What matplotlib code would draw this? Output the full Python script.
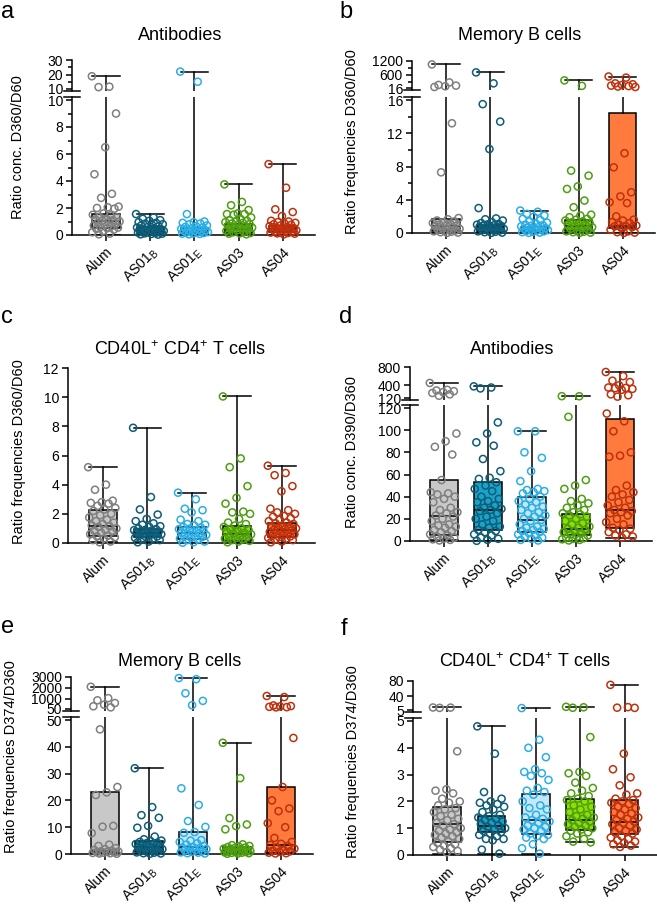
import numpy as np
import matplotlib
matplotlib.use("Agg")
import matplotlib.pyplot as plt

plt.rcParams['font.family'] = ['Liberation Sans', 'DejaVu Sans']
plt.rcParams['mathtext.default'] = 'regular'

groups = ['Alum', 'AS01$_{B}$', 'AS01$_{E}$', 'AS03', 'AS04']
box_fill = ['#c8c8c8', '#1aa3c9', '#c5e7f7', '#8fe000', '#ff7a3d']
pt_col = ['#7f7f7f', '#0d5d78', '#2aaee6', '#4e9e12', '#c0300c']

# panel a - antibodies D360/D60 ; boxes are (min, q1, median, q3, max)
a_pts = [
    [18.8, 11.6, 11.3, 9.0, 6.5, 4.5, 3.05, 2.75, 2.1, 2.05, 2.0, 1.95, 1.6, 1.5, 1.45, 1.35, 1.3, 1.2, 1.15,
     1.1, 1.05, 1.0, 0.95, 0.9, 0.85, 0.8, 0.7, 0.65, 0.6, 0.55, 0.5, 0.45, 0.4, 0.3, 0.2, 0.1, 0.05],
    [1.55, 1.3, 1.2, 1.1, 1.05, 0.95, 0.9, 0.85, 0.8, 0.75, 0.7, 0.65, 0.6, 0.55, 0.5, 0.45, 0.42, 0.4, 0.38,
     0.35, 0.32, 0.3, 0.28, 0.25, 0.22, 0.2, 0.18, 0.15, 0.12, 0.1, 0.08, 0.05, 0.03],
    [22.0, 15.0, 1.55, 1.0, 0.95, 0.9, 0.85, 0.8, 0.7, 0.65, 0.6, 0.55, 0.5, 0.45, 0.4, 0.38, 0.35, 0.32, 0.3,
     0.28, 0.25, 0.22, 0.2, 0.18, 0.15, 0.12, 0.1, 0.08, 0.05],
    [3.75, 2.45, 2.2, 1.85, 1.6, 1.55, 1.55, 1.5, 1.3, 1.2, 1.1, 1.05, 1.0, 0.95, 0.9, 0.85, 0.8, 0.75, 0.7,
     0.65, 0.6, 0.55, 0.5, 0.45, 0.4, 0.35, 0.3, 0.25, 0.2, 0.15, 0.12, 0.1, 0.05],
    [5.25, 3.5, 1.9, 1.7, 1.4, 1.05, 1.0, 0.95, 0.9, 0.85, 0.8, 0.75, 0.7, 0.65, 0.6, 0.55, 0.5, 0.48, 0.45,
     0.42, 0.4, 0.35, 0.3, 0.28, 0.25, 0.2, 0.18, 0.15, 0.12, 0.1, 0.05],
]
a_box = [(0.03, 0.55, 1.05, 1.55, 18.8), (0.02, 0.15, 0.32, 0.6, 1.55), (0.03, 0.14, 0.3, 0.5, 22.0),
         (0.03, 0.15, 0.45, 0.85, 3.75), (0.03, 0.2, 0.42, 0.7, 5.25)]

# panel b - memory B cells D360/D60
b_pts = [
    [1050, 260, 150, 120, 90, 60, 13.2, 7.3, 1.8, 1.65, 1.5, 1.4, 1.3, 1.2, 1.1, 1.0, 0.9, 0.85, 0.8, 0.7, 0.6,
     0.5, 0.45, 0.4, 0.3, 0.25, 0.2, 0.15, 0.1, 0.05, 0.02],
    [700, 220, 15.5, 13.4, 10.1, 3.0, 1.75, 1.65, 1.5, 1.3, 1.2, 1.1, 1.05, 1.0, 0.95, 0.9, 0.85, 0.8, 0.75,
     0.7, 0.6, 0.5, 0.45, 0.4, 0.3, 0.25, 0.2, 0.15, 0.1, 0.05, 0.02],
    [2.7, 2.55, 2.3, 2.1, 1.95, 1.7, 1.55, 1.4, 1.25, 1.1, 1.0, 0.95, 0.9, 0.8, 0.7, 0.65, 0.6, 0.55, 0.5,
     0.45, 0.4, 0.35, 0.3, 0.25, 0.2, 0.15, 0.1, 0.05, 0.02],
    [350, 110, 7.5, 6.9, 5.6, 5.3, 3.9, 3.1, 2.2, 2.1, 1.9, 1.7, 1.6, 1.5, 1.4, 1.3, 1.2, 1.1, 1.0, 0.9, 0.8,
     0.7, 0.6, 0.5, 0.4, 0.3, 0.2, 0.15, 0.1, 0.05, 0.02],
    [520, 470, 220, 180, 150, 120, 100, 80, 60, 9.6, 7.9, 4.9, 4.4, 3.7, 3.6, 2.0, 1.6, 1.5, 1.3, 1.2, 1.0,
     0.9, 0.85, 0.8, 0.7, 0.6, 0.4, 0.2, 0.1, 0.05, 0.02],
]
b_box = [(0.02, 0.2, 0.8, 1.65, 1050), (0.02, 0.1, 0.7, 1.0, 700), (0.02, 0.1, 0.4, 0.75, 2.7),
         (0.02, 0.2, 0.8, 1.6, 350), (0.02, 0.6, 0.9, 14.4, 520)]

# panel c - CD40L+ CD4+ T cells D360/D60
c_pts = [
    [5.2, 4.0, 3.65, 2.9, 2.8, 2.75, 2.7, 2.55, 2.4, 2.3, 2.2, 2.0, 1.9, 1.75, 1.6, 1.5, 1.4, 1.3, 1.2, 1.15,
     1.1, 1.0, 0.9, 0.85, 0.8, 0.7, 0.6, 0.5, 0.45, 0.4, 0.3, 0.2, 0.1, 0.05],
    [7.9, 3.15, 2.3, 1.95, 1.65, 1.5, 1.35, 1.25, 1.15, 1.1, 1.0, 0.95, 0.9, 0.88, 0.85, 0.8, 0.78, 0.75, 0.7,
     0.68, 0.65, 0.6, 0.55, 0.5, 0.45, 0.4, 0.35, 0.3, 0.25, 0.2, 0.1, 0.05],
    [3.45, 3.0, 2.35, 2.25, 2.1, 1.6, 1.5, 1.3, 1.25, 1.2, 1.1, 1.05, 1.0, 0.95, 0.9, 0.85, 0.8, 0.75, 0.7,
     0.65, 0.6, 0.55, 0.5, 0.45, 0.4, 0.35, 0.3, 0.25, 0.2, 0.1, 0.05, 0.02],
    [10.05, 5.8, 5.2, 3.9, 3.1, 2.7, 2.15, 2.1, 2.0, 1.65, 1.4, 1.3, 1.2, 1.1, 1.0, 0.95, 0.9, 0.85, 0.8, 0.7,
     0.65, 0.6, 0.5, 0.45, 0.4, 0.35, 0.3, 0.25, 0.2, 0.15, 0.1, 0.05],
    [5.3, 4.8, 4.65, 3.9, 3.55, 2.35, 2.25, 2.1, 2.0, 1.85, 1.8, 1.7, 1.6, 1.5, 1.4, 1.35, 1.3, 1.2, 1.15, 1.1,
     1.05, 1.0, 0.95, 0.9, 0.85, 0.8, 0.75, 0.7, 0.65, 0.6, 0.55, 0.5, 0.45, 0.4, 0.35, 0.3, 0.25, 0.2, 0.1, 0.05],
]
c_box = [(0.05, 0.5, 1.15, 2.25, 5.2), (0.05, 0.4, 0.7, 0.95, 7.9), (0.02, 0.3, 0.7, 1.1, 3.45),
         (0.03, 0.15, 0.6, 1.2, 10.05), (0.03, 0.4, 0.9, 1.4, 5.3)]

# panel d - antibodies D390/D360
d_pts = [
    [450, 300, 285, 270, 250, 230, 200, 170, 97, 90, 85, 78, 55, 44, 43, 42, 40, 38, 35, 30, 28, 26, 25, 23,
     22, 20, 18, 15, 14, 13, 12, 10, 9, 8, 6, 5, 4, 3, 2, 1.5, 1, 0.5],
    [375, 350, 330, 107, 97, 89, 86, 74, 63, 57, 56, 53, 50, 47, 45, 40, 38, 36, 35, 32, 30, 29, 28, 27, 25,
     22, 20, 18, 15, 13, 12, 10, 9, 8, 6, 5, 3, 2, 1, 0.2],
    [99, 99, 80, 75, 63, 54, 47, 46, 45, 44, 43, 40, 38, 36, 35, 33, 31, 30, 28, 26, 25, 23, 22, 20, 19, 18,
     15, 13, 12, 11, 10, 9, 8, 7, 6, 5, 4, 3, 2, 1, 0.5],
    [160, 158, 112, 55, 50, 47, 38, 36, 34, 32, 30, 28, 26, 25, 24, 23, 22, 20, 18, 16, 15, 13, 12, 11, 10, 9,
     8, 7, 6, 5, 4, 3, 2.5, 2, 1.5, 1, 0.5],
    [690, 600, 500, 470, 400, 350, 340, 335, 320, 300, 200, 180, 150, 115, 108, 99, 80, 77, 76, 50, 46, 44,
     42, 40, 37, 35, 32, 30, 28, 27, 26, 25, 23, 20, 17, 15, 12, 11, 10, 8, 6, 5, 4, 3],
]
d_box = [(0.5, 5.2, 23, 55, 450), (0.2, 9.5, 28, 53, 375), (0.3, 8, 18.5, 40, 99),
         (0.3, 5, 10.5, 24.5, 160), (3, 12, 28, 110, 690)]

# panel e - memory B cells D374/D360
e_pts = [
    [2100, 1050, 850, 600, 450, 300, 200, 46.5, 25, 23, 22, 10.5, 10.2, 7.8, 3.5, 3.0, 2.2, 1.8, 1.5, 1.2,
     1.0, 0.9, 0.8, 0.7, 0.6, 0.5, 0.4, 0.3, 0.2, 0.1],
    [32, 17.5, 14.5, 13.5, 10.5, 9.8, 6.5, 5.5, 5.0, 4.8, 4.5, 4.2, 4.0, 3.7, 3.5, 3.2, 3.0, 2.8, 2.5, 2.2,
     2.0, 1.8, 1.5, 1.2, 1.0, 0.8, 0.6, 0.5, 0.3, 0.2, 0.1],
    [2900, 2800, 1500, 800, 400, 24.5, 18.3, 12.3, 10.1, 8.2, 7.9, 5.2, 5.0, 4.5, 4.0, 3.5, 3.0, 2.6, 2.4,
     2.2, 2.0, 1.8, 1.5, 1.3, 1.0, 0.8, 0.6, 0.5, 0.3, 0.2],
    [41.5, 28.3, 13.4, 11.0, 10.4, 9.2, 3.6, 3.3, 3.0, 2.8, 2.6, 2.4, 2.2, 2.0, 1.9, 1.8, 1.6, 1.5, 1.4, 1.3,
     1.2, 1.1, 1.0, 0.9, 0.8, 0.7, 0.6, 0.5, 0.4, 0.3, 0.2, 0.1],
    [1250, 1150, 380, 320, 290, 250, 220, 200, 43.3, 25, 20, 17, 16, 11.5, 10, 6, 4.5, 3.8, 3.4, 3.0, 2.5,
     2.0, 1.5, 1.2, 1.0, 0.8, 0.5, 0.3, 0.2],
]
e_box = [(0.1, 0.3, 1.0, 23, 2100), (0.1, 0.8, 2.5, 5.0, 32), (0.2, 0.8, 2.5, 8.2, 2900),
         (0.1, 0.5, 1.3, 2.5, 41.5), (0.2, 0.5, 3.4, 25, 1250)]

# panel f - CD40L+ CD4+ T cells D374/D360
f_pts = [
    [11.5, 11.2, 10.5, 3.87, 2.45, 2.4, 2.3, 2.1, 2.0, 1.95, 1.85, 1.75, 1.7, 1.6, 1.5, 1.45, 1.35, 1.3, 1.2,
     1.15, 1.1, 1.0, 0.95, 0.9, 0.85, 0.8, 0.75, 0.7, 0.65, 0.6, 0.5, 0.45, 0.4, 0.35, 0.3, 0.25, 0.2, 0.15, 0.1],
    [4.8, 3.78, 2.35, 2.1, 2.0, 1.95, 1.9, 1.85, 1.8, 1.7, 1.6, 1.5, 1.45, 1.4, 1.35, 1.3, 1.25, 1.2, 1.15,
     1.1, 1.05, 1.0, 0.95, 0.9, 0.85, 0.8, 0.75, 0.7, 0.6, 0.6, 0.55, 0.2, 0.05],
    [10, 4.3, 4.0, 3.65, 3.2, 3.1, 3.05, 2.95, 2.8, 2.5, 2.4, 2.35, 2.25, 2.0, 1.85, 1.75, 1.7, 1.5, 1.4, 1.35,
     1.3, 1.25, 1.2, 1.1, 1.05, 1.0, 0.95, 0.9, 0.8, 0.75, 0.7, 0.65, 0.6, 0.4, 0.25, 0.05],
    [13.2, 12.0, 10.8, 4.4, 3.1, 3.05, 2.95, 2.7, 2.5, 2.4, 2.3, 2.2, 2.1, 2.05, 2.0, 1.85, 1.8, 1.7, 1.6,
     1.5, 1.45, 1.4, 1.35, 1.3, 1.25, 1.2, 1.15, 1.1, 1.05, 1.0, 0.95, 0.9, 0.85, 0.8, 0.7, 0.6, 0.5, 0.47],
    [70, 12.5, 11.0, 10.5, 3.78, 3.2, 2.9, 2.6, 2.3, 2.25, 2.1, 2.05, 2.0, 1.95, 1.9, 1.8, 1.75, 1.7, 1.6,
     1.55, 1.5, 1.4, 1.35, 1.3, 1.25, 1.2, 1.15, 1.1, 1.0, 0.95, 0.9, 0.85, 0.8, 0.7, 0.65, 0.6, 0.55, 0.5,
     0.45, 0.4, 0.35, 0.3],
]
f_box = [(0.03, 0.5, 1.17, 1.8, 11.5), (0.03, 0.85, 1.08, 1.45, 4.8), (0.03, 0.8, 1.3, 2.27, 10),
         (0.47, 0.93, 1.3, 2.1, 13.2), (0.28, 0.8, 1.22, 2.05, 70)]

W, H = 657, 906
fig = plt.figure(figsize=(W / 100, H / 100), dpi=100)
LW = 1.1


def px_axes(l, t, r, b):
    return fig.add_axes([l / W, 1 - b / H, (r - l) / W, (b - t) / H])


def style(ax, lim):
    ax.set_ylim(*lim)
    ax.set_xlim(-0.77, 4.73)
    ax.spines[['top', 'right']].set_visible(False)
    for s in ax.spines.values():
        s.set_linewidth(LW)
    ax.tick_params(axis='y', direction='out', length=4.5, width=LW, labelsize=10, pad=2)
    ax.tick_params(axis='y', which='minor', length=3, width=LW)


def dots(ax, pts, keep):
    for i, vals in enumerate(pts):
        v = np.array(vals, dtype=float)
        jit = ((np.arange(len(v)) * 0.618034) % 1.0 - 0.5) * 0.64
        m = keep(v)
        if m.sum() == 0:
            continue
        ax.scatter(i + jit[m], v[m], s=26, facecolors='none', edgecolors=pt_col[i],
                   linewidths=1.1, zorder=4, clip_on=False)


def panel(sx, rx, low, lo_lim, lo_ticks, pts, boxes, top=None, hi_lim=None, hi_ticks=None,
          lo_minor=None, hi_minor=None):
    cut = lo_lim[1]
    h_lo = low[1] - low[0]
    lim = lo_lim
    if top is not None:
        # leave a few pixels above the top tick of the lower segment
        lim = (0, cut + 3 * cut / (h_lo - 3))
    lo = px_axes(sx, low[0], rx, low[1])
    stats = [dict(whislo=b[0], q1=b[1], med=b[2], q3=b[3], whishi=b[4], fliers=[]) for b in boxes]
    bp = lo.bxp(stats, positions=range(5), widths=0.62, capwidths=0.62, patch_artist=True,
                showfliers=False, manage_ticks=False,
                boxprops=dict(edgecolor='k', linewidth=LW),
                whiskerprops=dict(color='k', linewidth=LW),
                capprops=dict(color='k', linewidth=LW),
                medianprops=dict(color='k', linewidth=LW))
    for patch, c in zip(bp['boxes'], box_fill):
        patch.set_facecolor(c)
    dots(lo, pts, lambda v: v <= cut)
    style(lo, lim)
    lo.set_yticks(lo_ticks)
    if lo_minor is not None:
        lo.set_yticks(lo_minor, minor=True)
    lo.set_xticks(range(5))
    lo.set_xticklabels(groups, rotation=45, ha='right', rotation_mode='anchor', fontsize=10)
    lo.tick_params(axis='x', length=4, width=LW, pad=3)
    if top is None:
        return
    dx = 8 / (rx - sx)
    lo.plot([-dx, dx], [1, 1], transform=lo.transAxes, color='k', lw=LW, clip_on=False)

    hi = px_axes(sx, top[0], rx, top[1])
    h_hi = top[1] - top[0]
    span = hi_lim[1] - hi_lim[0]
    hlim = (hi_lim[0] - 2 * span / (h_hi - 2), hi_lim[1])
    for i, b in enumerate(boxes):
        if b[4] > cut:
            hi.plot([i, i], [hlim[0], b[4]], color='k', lw=LW)
            hi.plot([i - 0.31, i + 0.31], [b[4], b[4]], color='k', lw=LW)
    dots(hi, pts, lambda v: v > cut)
    style(hi, hlim)
    hi.spines['bottom'].set_visible(False)
    hi.set_xticks([])
    hi.set_yticks(hi_ticks)
    if hi_minor is not None:
        hi.set_yticks(hi_minor, minor=True)
    hi.plot([-dx, dx], [0, 0], transform=hi.transAxes, color='k', lw=LW, clip_on=False)


panel(72, 315, (97, 235), (0, 10), range(0, 11, 2), a_pts, a_box, (60, 91), (10, 30), [10, 20, 30],
      lo_minor=range(1, 10, 2), hi_minor=[15, 25])
panel(412, 655, (97, 233), (0, 16), range(0, 17, 4), b_pts, b_box, (61, 90), (16, 1200), [16, 600, 1200],
      lo_minor=[2, 6, 10, 14], hi_minor=[300, 900])
panel(68, 315, (368, 543), (0, 12), range(0, 13, 2), c_pts, c_box)
panel(410, 652, (405, 541), (0, 120), range(0, 121, 20), d_pts, d_box, (367, 400), (120, 800), [120, 400, 800])
panel(71, 313, (717, 854), (0, 50), range(0, 51, 10), e_pts, e_box, (677, 711), (50, 3000),
      [50, 1000, 2000, 3000])
panel(413, 657, (718, 855), (0, 5), range(0, 6), f_pts, f_box, (681, 712), (5, 80), [5, 40, 80])

cd40 = 'CD40L$^{+}$ CD4$^{+}$ T cells'
titles = [('Antibodies', 180, 35), ('Memory B cells', 520, 35), (cd40, 180, 350),
          ('Antibodies', 512, 350), ('Memory B cells', 180, 662), (cd40, 525, 662)]
for t, x, y in titles:
    fig.text(x / W, 1 - y / H, t, ha='center', va='center', fontsize=13)

ylabels = [('Ratio conc. D360/D60', 18, 147), ('Ratio frequencies D360/D60', 352, 142),
           ('Ratio frequencies D360/D60', 19, 452), ('Ratio conc. D390/D360', 352, 452),
           ('Ratio frequencies D374/D360', 11, 757), ('Ratio frequencies D374/D360', 353, 762)]
for t, x, y in ylabels:
    fig.text(x / W, 1 - y / H, t, ha='center', va='center', rotation=90, fontsize=10.5)

letters = [('a', 1, 18), ('b', 339, 18), ('c', 1, 323), ('d', 339, 323), ('e', 1, 633), ('f', 341, 635)]
for t, x, y in letters:
    fig.text(x / W, 1 - y / H, t, ha='left', va='baseline', fontsize=17)

fig.savefig('out.png', dpi=100, facecolor='white')
